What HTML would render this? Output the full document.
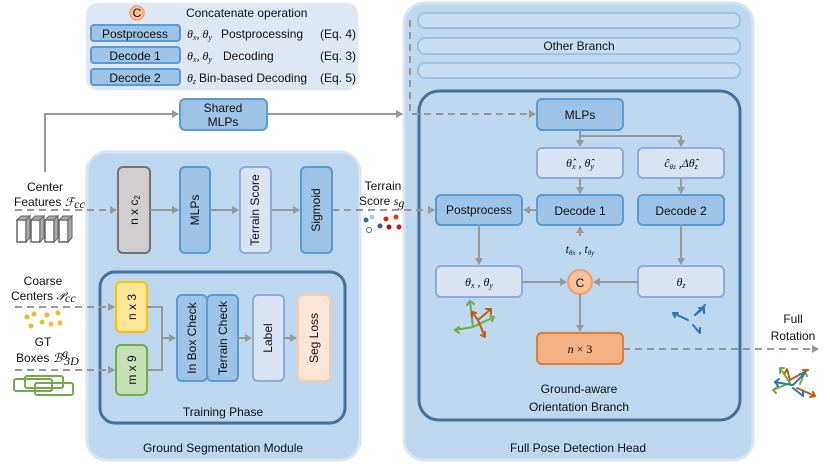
<!DOCTYPE html>
<html><head><meta charset="utf-8"><style>
html,body{margin:0;padding:0;background:#fff}
svg{display:block;font-family:"Liberation Sans","DejaVu Sans",sans-serif}
.t{font-size:12px;fill:#111}
.m{font-family:"Liberation Serif",serif;font-style:italic;font-size:12px;fill:#111}
</style></head><body>
<svg width="830" height="467" viewBox="0 0 830 467" xmlns="http://www.w3.org/2000/svg">
<defs>
<marker id="a" markerWidth="8" markerHeight="8" refX="6" refY="4" orient="auto" markerUnits="userSpaceOnUse"><path d="M0,0 L7,4 L0,8 Z" fill="#999"/></marker>
</defs>
<!-- legend -->
<rect x="86" y="3" width="272" height="87" rx="12" fill="#dde8f4" stroke="#e8f0f8"/>
<circle cx="137" cy="13" r="7" fill="#f8c39a" stroke="#f0a070" stroke-width="1.5"/>
<text x="137" y="17" text-anchor="middle" class="t" font-size="10">C</text>
<text x="186" y="17" class="t">Concatenate operation</text>
<g fill="#9dc3e6" stroke="#5b9bd5" stroke-width="2">
<rect x="91" y="25" width="89" height="16" rx="3"/><rect x="91" y="47" width="89" height="16" rx="3"/><rect x="91" y="69" width="89" height="16" rx="3"/></g>
<text x="135" y="38" text-anchor="middle" class="t">Postprocess</text>
<text x="135" y="60" text-anchor="middle" class="t">Decode 1</text>
<text x="135" y="82" text-anchor="middle" class="t">Decode 2</text>
<text x="187" y="38" class="m">θ<tspan font-size="8" dy="2">x</tspan><tspan dy="-2">, θ</tspan><tspan font-size="8" dy="2">y</tspan></text><text x="221" y="38" class="t">Postprocessing</text><text x="356" y="38" text-anchor="end" class="t">(Eq. 4)</text>
<text x="187" y="60" class="m">θ<tspan font-size="8" dy="2">x</tspan><tspan dy="-2">, θ</tspan><tspan font-size="8" dy="2">y</tspan></text><text x="223" y="60" class="t">Decoding</text><text x="356" y="60" text-anchor="end" class="t">(Eq. 3)</text>
<text x="187" y="82" class="m">θ<tspan font-size="8" dy="2">z</tspan></text><text x="199" y="82" class="t">Bin-based Decoding</text><text x="356" y="82" text-anchor="end" class="t">(Eq. 5)</text>

<!-- GSM -->
<rect x="87" y="152" width="273" height="308" rx="20" fill="#bdd7ee" stroke="#d6e6f5" stroke-width="3"/>
<text x="223" y="452" text-anchor="middle" class="t" font-size="14">Ground Segmentation Module</text>
<!-- Full pose head -->
<rect x="404" y="3" width="349" height="457" rx="20" fill="#bdd7ee" stroke="#d6e6f5" stroke-width="3"/>
<text x="578" y="452" text-anchor="middle" class="t" font-size="14">Full Pose Detection Head</text>
<g fill="#c9ddf1" stroke="#9cc3e5" stroke-width="2">
<rect x="418" y="13" width="322" height="15" rx="7"/><rect x="418" y="38" width="322" height="16" rx="7"/><rect x="418" y="63" width="322" height="15" rx="7"/></g>
<text x="579" y="50" text-anchor="middle" class="t" font-size="11">Other Branch</text>
<rect x="419" y="91" width="321" height="329" rx="20" fill="none" stroke="#41719c" stroke-width="3"/>
<text x="579" y="393" text-anchor="middle" class="t" font-size="14">Ground-aware</text>
<text x="579" y="411" text-anchor="middle" class="t" font-size="14">Orientation Branch</text>

<!-- shared MLPs path -->
<path d="M45,172 V114 H178" fill="none" stroke="#999" stroke-width="2" marker-end="url(#a)"/>
<rect x="180" y="99" width="87" height="31" rx="5" fill="#9dc3e6" stroke="#5b9bd5" stroke-width="2"/>
<text x="223" y="112" text-anchor="middle" class="t">Shared</text><text x="223" y="126" text-anchor="middle" class="t">MLPs</text>
<path d="M267,114 H402" fill="none" stroke="#999" stroke-width="2" marker-end="url(#a)"/>
<path d="M410,20 V114 H535" fill="none" stroke="#999" stroke-width="2" stroke-dasharray="7,5" marker-end="url(#a)"/>

<!-- left inputs -->
<text x="45" y="191" text-anchor="middle" class="t">Center</text>
<text x="14" y="206" class="t">Features <tspan class="m">ℱ</tspan><tspan class="m" font-size="8" dy="2">cc</tspan></text>
<g fill="#fff" stroke="#666" stroke-width="1.5">
<rect x="17" y="220" width="9" height="22"/><rect x="31" y="220" width="9" height="22"/><rect x="45" y="220" width="9" height="22"/><rect x="59" y="220" width="9" height="22"/></g>
<g fill="#aaa" stroke="#666" stroke-width="1">
<path d="M26,220 l4,-4 v22 l-4,4z"/><path d="M40,220 l4,-4 v22 l-4,4z"/><path d="M54,220 l4,-4 v22 l-4,4z"/><path d="M68,220 l4,-4 v22 l-4,4z"/>
<path d="M17,220 l4,-4 h9 l-4,4z"/><path d="M31,220 l4,-4 h9 l-4,4z"/><path d="M45,220 l4,-4 h9 l-4,4z"/><path d="M59,220 l4,-4 h9 l-4,4z"/></g>
<path d="M15,210 H116" stroke="#999" stroke-width="2" stroke-dasharray="7,5" marker-end="url(#a)"/>

<!-- top row gsm -->
<rect x="118" y="167" width="32" height="86" rx="5" fill="#d0cece" stroke="#767171" stroke-width="2"/>
<rect x="180" y="167" width="30" height="86" rx="5" fill="#9dc3e6" stroke="#5b9bd5" stroke-width="2"/>
<rect x="240" y="167" width="31" height="86" rx="5" fill="#dae3f3" stroke="#8faadc" stroke-width="2"/>
<rect x="301" y="167" width="31" height="86" rx="5" fill="#9dc3e6" stroke="#5b9bd5" stroke-width="2"/>
<text transform="translate(138,210) rotate(-90)" class="t" text-anchor="middle">n x c<tspan font-size="8" dy="2">2</tspan></text>
<text transform="translate(199,210) rotate(-90)" class="t" text-anchor="middle">MLPs</text>
<text transform="translate(259,210) rotate(-90)" class="t" text-anchor="middle" font-size="11">Terrain Score</text>
<text transform="translate(320,210) rotate(-90)" class="t" text-anchor="middle">Sigmoid</text>
<path d="M150,210 H178" stroke="#999" stroke-width="2" marker-end="url(#a)"/><path d="M210,210 H238" stroke="#999" stroke-width="2" marker-end="url(#a)"/><path d="M271,210 H299" stroke="#999" stroke-width="2" marker-end="url(#a)"/>
<path d="M332,210 H434" stroke="#999" stroke-width="2" stroke-dasharray="7,5" marker-end="url(#a)"/>
<text x="383" y="190" text-anchor="middle" class="t">Terrain</text>
<text x="359" y="205" class="t">Score <tspan class="m">s</tspan><tspan class="m" font-size="8" dy="2">g</tspan></text>
<g><circle cx="366" cy="220" r="2.5" fill="#2e6eb5"/><circle cx="372" cy="217" r="2.5" fill="#a8cdf0"/><circle cx="386" cy="219" r="2.5" fill="#e02020"/><circle cx="396" cy="217" r="2.5" fill="#ee3311"/><circle cx="369" cy="230" r="2.5" fill="#fff" stroke="#2e6eb5"/><circle cx="380" cy="226" r="2.5" fill="#2e5e9e"/><circle cx="389" cy="227" r="2.5" fill="#b01010"/><circle cx="399" cy="227" r="2.5" fill="#e01010"/></g>

<!-- training -->
<rect x="100" y="272" width="245" height="151" rx="15" fill="none" stroke="#41719c" stroke-width="3"/>
<text x="223" y="416" text-anchor="middle" class="t" font-size="14">Training Phase</text>
<rect x="116" y="282" width="31" height="50" rx="5" fill="#ffe699" stroke="#ffc000" stroke-width="2"/>
<rect x="116" y="345" width="31" height="50" rx="5" fill="#c5e0b4" stroke="#70ad47" stroke-width="2"/>
<rect x="177" y="295" width="30" height="86" rx="5" fill="#9dc3e6" stroke="#5b9bd5" stroke-width="2"/>
<rect x="207" y="295" width="31" height="86" rx="5" fill="#9dc3e6" stroke="#5b9bd5" stroke-width="2"/>
<rect x="253" y="295" width="31" height="86" rx="5" fill="#dae3f3" stroke="#8faadc" stroke-width="2"/>
<rect x="298" y="295" width="32" height="86" rx="5" fill="#fbe5d6" stroke="#f8cbad" stroke-width="2"/>
<text transform="translate(136,307) rotate(-90)" class="t" text-anchor="middle">n x 3</text>
<text transform="translate(136,370) rotate(-90)" class="t" text-anchor="middle">m x 9</text>
<text transform="translate(196,338) rotate(-90)" class="t" text-anchor="middle" font-size="11">In Box Check</text>
<text transform="translate(227,338) rotate(-90)" class="t" text-anchor="middle" font-size="11">Terrain Check</text>
<text transform="translate(272,338) rotate(-90)" class="t" text-anchor="middle">Label</text>
<text transform="translate(318,338) rotate(-90)" class="t" text-anchor="middle">Seg Loss</text>
<path d="M147,307 H162 V370 H147" fill="none" stroke="#999" stroke-width="2"/>
<path d="M162,338 H175" stroke="#999" stroke-width="2" marker-end="url(#a)"/>
<path d="M238,338 H251" stroke="#999" stroke-width="2" marker-end="url(#a)"/>
<path d="M284,338 H296" stroke="#999" stroke-width="2" marker-end="url(#a)"/>
<text x="43" y="285" text-anchor="middle" class="t">Coarse</text>
<text x="11" y="300" class="t">Centers <tspan class="m">𝒫</tspan><tspan class="m" font-size="8" dy="2">cc</tspan></text>
<path d="M15,307 H114" stroke="#999" stroke-width="2" stroke-dasharray="7,5" marker-end="url(#a)"/>
<g fill="#f5b82e"><circle cx="27" cy="317" r="2.5"/><circle cx="34" cy="314" r="2.5"/><circle cx="47" cy="315" r="2.5"/><circle cx="58" cy="313" r="2.5"/><circle cx="31" cy="326" r="2.5"/><circle cx="42" cy="322" r="2.5"/><circle cx="51" cy="324" r="2.5"/><circle cx="60" cy="323" r="2.5"/></g>
<text x="43" y="346" text-anchor="middle" class="t">GT</text>
<text x="16" y="362" class="t">Boxes <tspan class="m">ℬ</tspan><tspan class="m" font-size="8" dy="-5">g</tspan><tspan class="m" font-size="8" dx="-4" dy="8">3D</tspan></text>
<path d="M15,370 H114" stroke="#999" stroke-width="2" stroke-dasharray="7,5" marker-end="url(#a)"/>
<g fill="none" stroke="#70ad47" stroke-width="2"><rect x="14" y="379" width="38" height="12" rx="2"/><rect x="25" y="376" width="38" height="12" rx="2"/><rect x="35" y="383" width="38" height="12" rx="2"/></g>

<!-- orientation branch -->
<rect x="537" y="99" width="86" height="31" rx="5" fill="#9dc3e6" stroke="#5b9bd5" stroke-width="2"/>
<text x="580" y="119" text-anchor="middle" class="t" font-size="13">MLPs</text>
<path d="M580,130 V136 H681" fill="none" stroke="#999" stroke-width="2"/>
<path d="M580,136 V146" stroke="#999" stroke-width="2" marker-end="url(#a)"/>
<path d="M681,136 V146" stroke="#999" stroke-width="2" marker-end="url(#a)"/>
<g fill="#dae3f3" stroke="#8faadc" stroke-width="2">
<rect x="537" y="148" width="86" height="30" rx="5"/><rect x="638" y="148" width="86" height="30" rx="5"/>
<rect x="436" y="266" width="86" height="31" rx="5"/><rect x="638" y="266" width="86" height="31" rx="5"/></g>
<text x="580" y="167" text-anchor="middle" class="m">θ̂<tspan font-size="8" dy="2">x</tspan><tspan dy="-2"> , θ̂</tspan><tspan font-size="8" dy="2">y</tspan></text>
<text x="681" y="167" text-anchor="middle" class="m">ĉ<tspan font-size="7" dy="2">θz</tspan><tspan dy="-2"> ,Δθ̂</tspan><tspan font-size="8" dy="2">z</tspan></text>
<text x="479" y="286" text-anchor="middle" class="m">θ<tspan font-size="8" dy="2">x</tspan><tspan dy="-2"> , θ</tspan><tspan font-size="8" dy="2">y</tspan></text>
<text x="681" y="286" text-anchor="middle" class="m">θ<tspan font-size="8" dy="2">z</tspan></text>
<g fill="#9dc3e6" stroke="#5b9bd5" stroke-width="2">
<rect x="436" y="195" width="86" height="30" rx="5"/><rect x="537" y="195" width="86" height="30" rx="5"/><rect x="638" y="195" width="86" height="30" rx="5"/></g>
<text x="479" y="214" text-anchor="middle" class="t">Postprocess</text>
<text x="580" y="215" text-anchor="middle" class="t" font-size="13">Decode 1</text>
<text x="681" y="215" text-anchor="middle" class="t" font-size="13">Decode 2</text>
<path d="M580,178 V193" stroke="#999" stroke-width="2" marker-end="url(#a)"/>
<path d="M681,178 V193" stroke="#999" stroke-width="2" marker-end="url(#a)"/>
<path d="M537,210 H524" stroke="#999" stroke-width="2" marker-end="url(#a)"/>
<path d="M580,236 V227" stroke="#999" stroke-width="2" marker-end="url(#a)"/>
<text x="580" y="253" text-anchor="middle" class="m">t<tspan font-size="7" dy="2">θx</tspan><tspan dy="-2"> , t</tspan><tspan font-size="7" dy="2">θy</tspan></text>
<path d="M479,225 V264" stroke="#999" stroke-width="2" marker-end="url(#a)"/>
<path d="M681,225 V264" stroke="#999" stroke-width="2" marker-end="url(#a)"/>
<path d="M522,282 H566" stroke="#999" stroke-width="2" marker-end="url(#a)"/>
<path d="M638,282 H594" stroke="#999" stroke-width="2" marker-end="url(#a)"/>
<circle cx="580" cy="282" r="12" fill="#f8c39a" stroke="#f0a070" stroke-width="2"/>
<text x="580" y="287" text-anchor="middle" class="t" font-size="13">C</text>
<path d="M580,294 V331" stroke="#999" stroke-width="2" marker-end="url(#a)"/>
<rect x="537" y="333" width="86" height="31" rx="5" fill="#f4b183" stroke="#e07b39" stroke-width="2"/>
<text x="580" y="353" text-anchor="middle" class="m">n <tspan font-style="normal">× 3</tspan></text>
<path d="M623,349 H818" stroke="#999" stroke-width="2" stroke-dasharray="7,5" marker-end="url(#a)"/>
<text x="793" y="323" text-anchor="middle" class="t" font-size="14">Full</text>
<text x="793" y="340" text-anchor="middle" class="t" font-size="14">Rotation</text>
<!-- rotation glyphs -->
<g stroke-width="2" fill="none" stroke-linecap="round">
<g stroke="#70ad47"><path d="M473,327 L470,301 M470,301 l-3,4 M470,301 l4,3"/><path d="M473,327 L494,317 M494,317 l-4,-1 M494,317 l-2,4"/><path d="M473,327 L455,330 M455,330 l4,-3 M455,330 l4,3"/></g>
<g stroke="#c55a11"><path d="M478,320 L472,312 M472,312 l0,5 M472,312 l4,1"/><path d="M478,320 L491,309 M491,309 l-5,0 M491,309 l0,5"/><path d="M478,320 L485,337 M485,337 l0,-5 M485,337 l-4,-2"/></g>
<g stroke="#2e75b6"><path d="M695,315 L704,308 M704,308 l-5,0 M704,308 l0,5"/><path d="M688,320 L673,313 M673,313 l5,0 M673,313 l2,4"/><path d="M693,325 L700,333 M700,333 l0,-5"/><path d="M695,315 L705,305"/></g>
<g stroke="#70ad47"><path d="M790,383 L780,368 M780,368 l0,5 M780,368 l4,0"/><path d="M790,383 L773,390 M773,390 l4,-3 M773,390 l3,3"/><path d="M800,384 L805,372 M805,372 l-3,3 M805,372 l2,4"/></g>
<g stroke="#c55a11"><path d="M790,380 L787,369 M787,369 l-2,4"/><path d="M790,380 L808,370 M808,370 l-5,0"/><path d="M797,388 L815,396 M815,396 l-5,1 M815,396 l-2,-4"/></g>
<g stroke="#2e75b6"><path d="M792,385 L775,382 M775,382 l4,-3 M775,382 l3,4"/><path d="M793,385 L805,373 M805,373 l-5,1"/><path d="M793,388 L803,396 M803,396 l0,-5"/></g>
</g>
</svg>
</body></html>
